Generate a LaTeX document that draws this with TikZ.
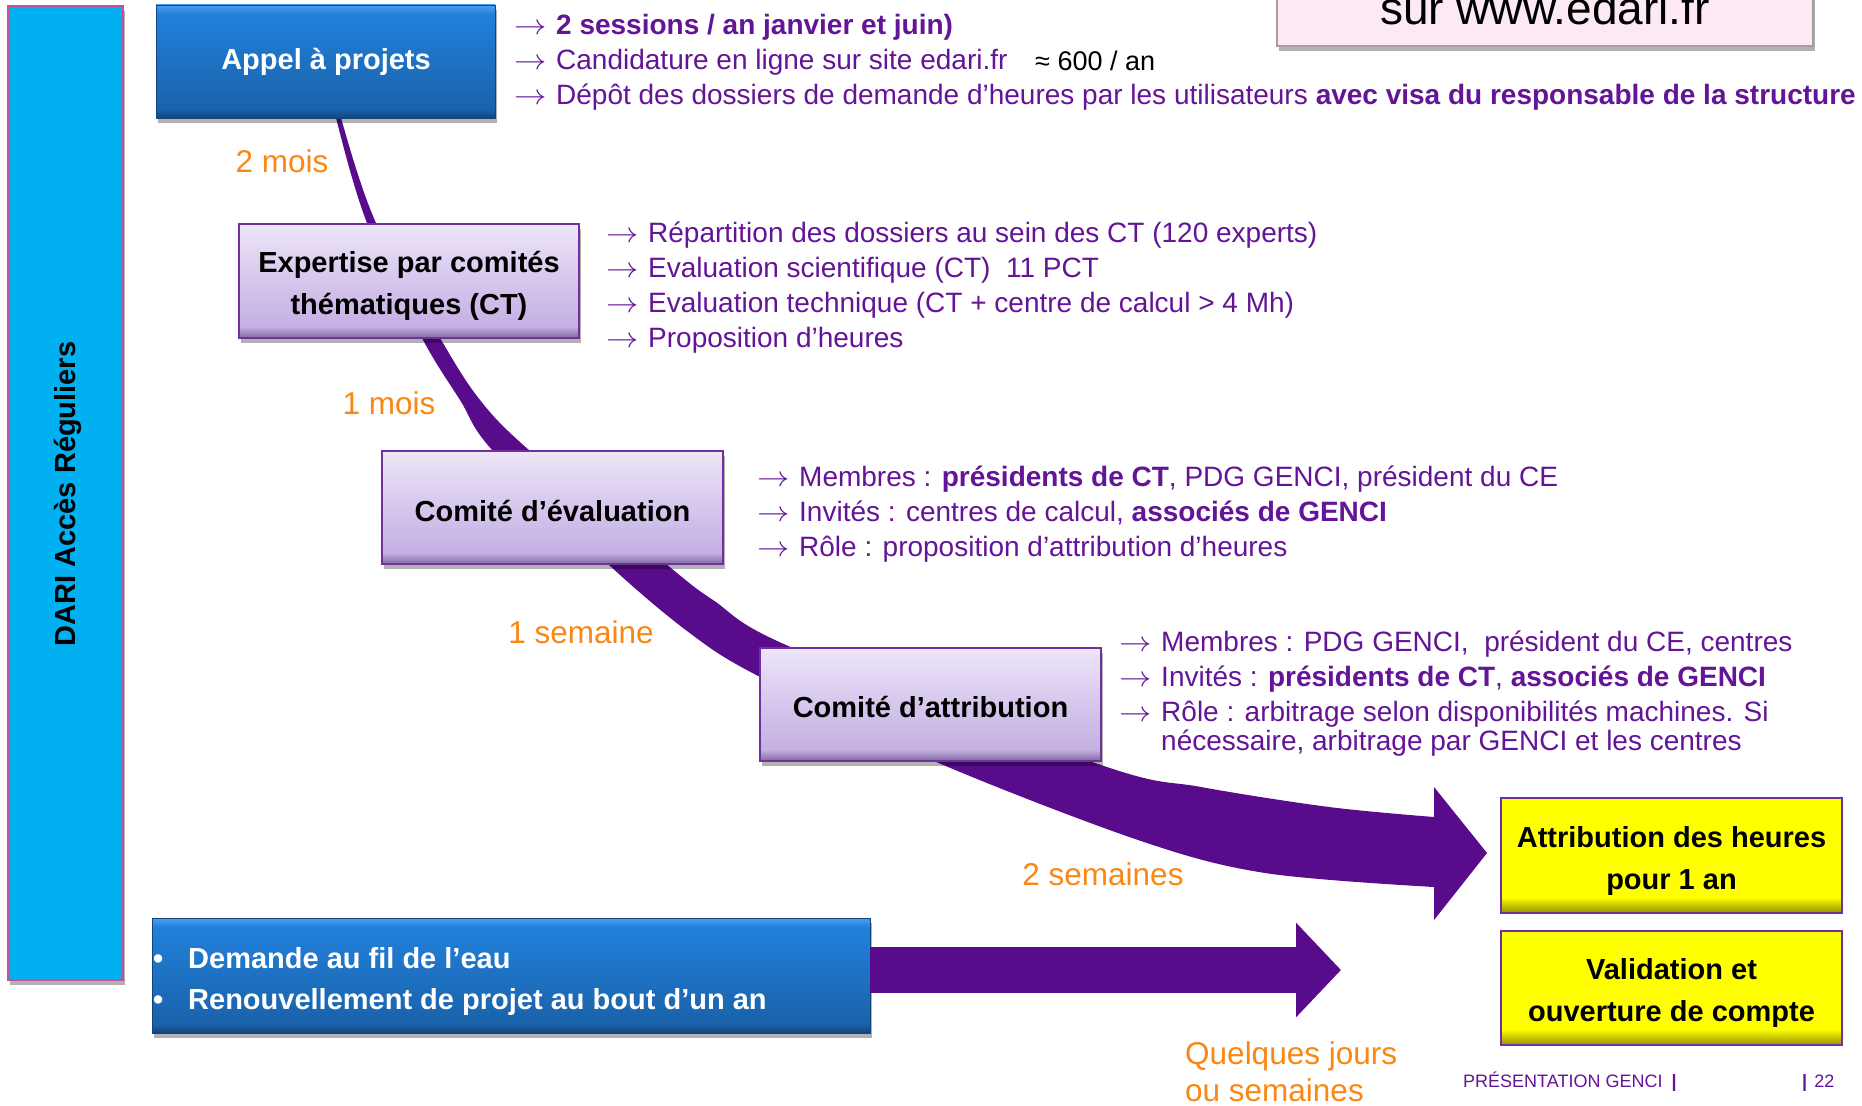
\documentclass[tikz,border=0pt]{standalone}
\usepackage{fontspec}
\setmainfont{Liberation Sans}
\usetikzlibrary{shadows,arrows.meta,calc}

\definecolor{purpT}{RGB}{100,20,150}
\definecolor{purpB}{RGB}{112,48,160}
\definecolor{arrP}{RGB}{88,12,140}
\definecolor{orng}{RGB}{250,135,20}
\definecolor{cyanbar}{RGB}{0,176,240}
\definecolor{pinkb}{RGB}{200,80,150}
\definecolor{lavT}{RGB}{238,230,248}
\definecolor{lavM}{RGB}{218,204,239}
\definecolor{lavB}{RGB}{196,176,226}
\definecolor{lavD}{RGB}{125,105,155}
\definecolor{bluL}{RGB}{75,160,236}
\definecolor{bluT}{RGB}{34,128,218}
\definecolor{bluB}{RGB}{26,98,170}
\definecolor{bluD}{RGB}{18,68,122}
\definecolor{yelD}{RGB}{150,145,0}
\definecolor{yelY}{RGB}{255,255,0}
\definecolor{pinkbox}{RGB}{253,233,244}
\definecolor{grayb}{RGB}{165,155,165}

\pgfdeclareverticalshading{lavbev}{100bp}{color(0bp)=(lavD); color(25bp)=(lavD); color(30bp)=(lavB); color(55bp)=(lavM); color(75bp)=(lavT); color(100bp)=(lavT)}
\pgfdeclareverticalshading{blubev}{100bp}{color(0bp)=(bluD); color(25bp)=(bluD); color(29bp)=(bluB); color(71bp)=(bluT); color(75bp)=(bluL); color(100bp)=(bluL)}
\pgfdeclareverticalshading{yelbev}{100bp}{color(0bp)=(yelD); color(25bp)=(yelD); color(32bp)=(yelY); color(100bp)=(yelY)}

\newcommand{\bularr}{\makebox[42pt][l]{\scalebox{1.3}[1.15]{$\rightarrow$}}}

\begin{document}
\begin{tikzpicture}[x=1pt,y=-1pt,
  shdw/.style={drop shadow={shadow xshift=2pt,shadow yshift=-5pt,opacity=0.3,fill=black}},
  bul/.style={font=\fontsize{28}{34}\selectfont, text=purpT, anchor=base west, inner sep=0pt},
  orl/.style={font=\fontsize{31.5}{38}\selectfont, text=orng, anchor=base, inner sep=0pt},
  ttl/.style={font=\bfseries\fontsize{29}{35}\selectfont, anchor=base, inner sep=0pt},
  lavbox/.style={shade, shading=lavbev, draw=purpB, line width=1.5pt, shdw, inner sep=0pt},
  blubox/.style={shade, shading=blubev, draw=bluD, line width=0.8pt, shdw, inner sep=0pt},
  yelbox/.style={shade, shading=yelbev, draw=purpB, line width=1.5pt, inner sep=0pt},
]
\useasboundingbox (0,0) rectangle (1862,1105);
\clip (0,0) rectangle (1862,1105);
\fill[white] (0,0) rectangle (1862,1105);

% big curved arrow
\fill[arrP]
  plot[smooth, tension=0.55] coordinates {(335,100) (336,118) (367,223) (422,338) (460,400) (493,451) (608,564) (691,634) (760,677) (934,761) (1138,840) (1265,873) (1434,887)}
  -- (1434,920) -- (1487,853) -- (1434,787) -- (1434,817)
  -- plot[smooth, tension=0.55] coordinates {(1434,817) (1329,807) (1201,787) (1101,765) (793,648) (713,600) (666,564) (530,451) (480,400) (440,338) (376,223) (341,118) (340,100)}
  -- cycle;

% left bar
\node[fill=cyanbar, draw=pinkb, line width=1.2pt, shdw, minimum width=115pt, minimum height=974pt, inner sep=0pt] (bar) at (65.5,493) {};
\node[ttl, rotate=90] (dari) at (75,494) {DARI Accès Réguliers};

% www box (cut by top edge)
\node[fill=pinkbox, draw=grayb, line width=1.5pt, shdw, minimum width=536pt, minimum height=106pt, inner sep=0pt] (www) at (1545,-7) {};
\node[font=\fontsize{46}{52}\selectfont, anchor=base, inner sep=0pt] (wwwt) at (1545,25) {sur www.edari.fr};

% boxes
\node[blubox, minimum width=339pt, minimum height=113pt] (appel) at (325.5,61.5) {};
\node[ttl, text=white] (appelt) at (326,70) {Appel à projets};

\node[lavbox, minimum width=340pt, minimum height=114pt] (expert) at (409,281) {};
\node[ttl] (expt1) at (409,272) {Expertise par comités};
\node[ttl] (expt2) at (409,314) {thématiques (CT)};

\node[lavbox, minimum width=341pt, minimum height=113pt] (evalb) at (552.5,507.5) {};
\node[ttl] (evalt) at (552.5,521) {Comité d’évaluation};

\node[lavbox, minimum width=341pt, minimum height=113pt] (attrb) at (930.5,704.5) {};
\node[ttl] (attrt) at (930.5,717) {Comité d’attribution};

\node[yelbox, minimum width=341pt, minimum height=115pt] (yel1) at (1671.5,855.5) {};
\node[ttl] (yel1a) at (1671.5,847) {Attribution des heures};
\node[ttl] (yel1b) at (1671.5,889) {pour 1 an};

\node[yelbox, minimum width=341pt, minimum height=114pt] (yel2) at (1671.5,988) {};
\node[ttl] (yel2a) at (1671.5,979) {Validation et};
\node[ttl] (yel2b) at (1671.5,1021) {ouverture de compte};

\node[blubox, minimum width=718pt, minimum height=115pt] (dem) at (511,975.5) {};
\node[ttl, text=white, anchor=base west] (dem1b) at (153,968) {•};
\node[ttl, text=white, anchor=base west] (dem1) at (188,968) {Demande au fil de l’eau};
\node[ttl, text=white, anchor=base west] (dem2b) at (153,1009) {•};
\node[ttl, text=white, anchor=base west] (dem2) at (188,1009) {Renouvellement de projet au bout d’un an};

% straight arrow
\coordinate (qtip) at (1341,970);
\draw[arrP, line width=46pt, -{Triangle[length=45pt,width=92pt]}] (dem.east |- qtip) -- (qtip);

% top bullets
\node[bul] (t1) at (514,35) {\bularr{\bfseries 2 sessions / an janvier et juin)}};
\node[bul] (t2) at (514,70) {\bularr Candidature en ligne sur site edari.fr};
\node[bul, text=black, font=\fontsize{27}{32}\selectfont] (t2b) at (1035,71) {≈ 600 / an};
\node[bul] (t3) at (514,105) {\bularr Dépôt des dossiers de demande d’heures par les utilisateurs {\bfseries avec visa du responsable de la structure}};

% CT bullets
\node[bul] (c1) at (606,242) {\bularr Répartition des dossiers au sein des CT (120 experts)};
\node[bul] (c2) at (606,277) {\bularr Evaluation scientifique (CT)\ \ 11 PCT};
\node[bul] (c3) at (606,312) {\bularr Evaluation technique (CT + centre de calcul > 4 Mh)};
\node[bul] (c4) at (606,347) {\bularr Proposition d’heures};

% eval bullets
\node[bul] (e1) at (757,486) {\bularr Membres : {\bfseries présidents de CT}, PDG GENCI, président du CE};
\node[bul] (e2) at (757,521) {\bularr Invités : centres de calcul, {\bfseries associés de GENCI}};
\node[bul] (e3) at (757,556) {\bularr Rôle : proposition d’attribution d’heures};

% attribution bullets
\node[bul] (a1) at (1119,651) {\bularr Membres : PDG GENCI,\ \ président du CE, centres};
\node[bul] (a2) at (1119,686) {\bularr Invités : {\bfseries présidents de CT}, {\bfseries associés de GENCI}};
\node[bul] (a3) at (1119,721) {\bularr Rôle : arbitrage selon disponibilités machines. Si};
\node[bul] (a4) at (1161,750) {nécessaire, arbitrage par GENCI et les centres};

% durations
\node[orl] (d1) at (282,172) {2 mois};
\node[orl] (d2) at (389,414) {1 mois};
\node[orl] (d3) at (581,643) {1 semaine};
\node[orl] (d4) at (1103,885) {2 semaines};
\node[orl, anchor=base west] (d5) at (1185,1064) {Quelques jours};
\node[orl, anchor=base west] (d6) at (1185,1101) {ou semaines};

% footer
\node[anchor=base west, inner sep=0pt, font=\fontsize{18}{22}\selectfont, text=purpT] (foot) at (1463,1087) {PRÉSENTATION GENCI\hspace{9pt}{\bfseries|}};
\node[anchor=base west, inner sep=0pt, font=\fontsize{18}{22}\selectfont, text=purpT] (page) at (1802,1087) {{\bfseries|}\hspace{7pt}22};
\end{tikzpicture}
\end{document}
